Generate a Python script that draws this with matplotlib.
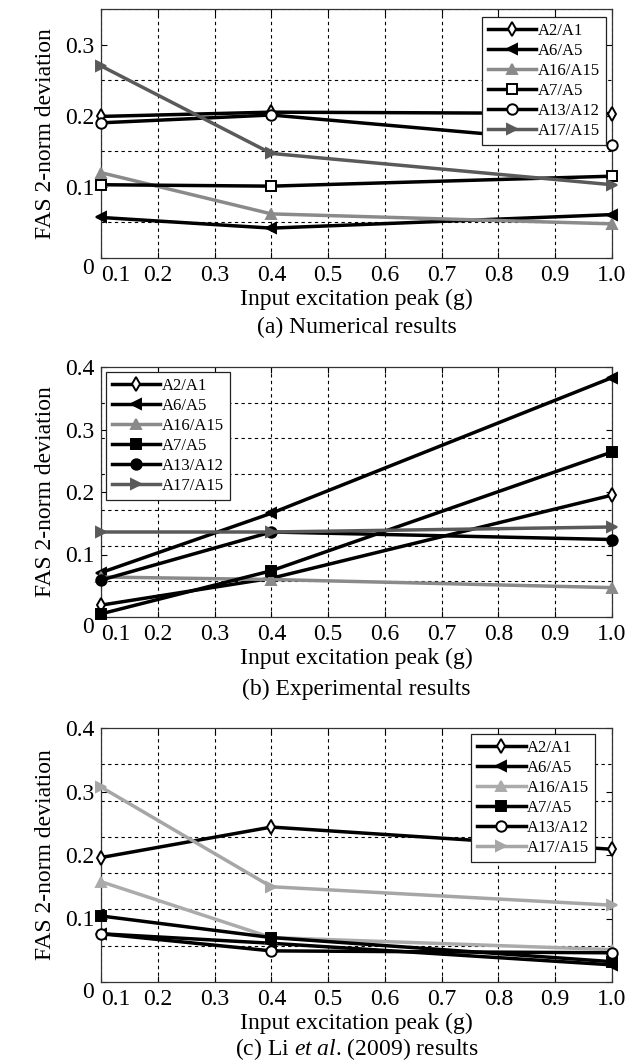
import numpy as np
import matplotlib
matplotlib.use('Agg')
import matplotlib.pyplot as plt
from matplotlib.ticker import FixedLocator

plt.rcParams['font.family'] = ['Liberation Serif', 'DejaVu Serif']
plt.rcParams['mathtext.fontset'] = 'custom'
plt.rcParams['mathtext.rm'] = 'Liberation Serif'
plt.rcParams['mathtext.it'] = 'Liberation Serif:italic'

# input excitation peaks (g)
peaks = [0.1, 0.4, 1.0]
series = ['A2/A1', 'A6/A5', 'A16/A15', 'A7/A5', 'A13/A12', 'A17/A15']

# (a) numerical results, one list per series
num_vals = [
    [0.199, 0.205, 0.203],
    [0.057, 0.042, 0.061],
    [0.120, 0.062, 0.048],
    [0.103, 0.101, 0.115],
    [0.190, 0.201, 0.159],
    [0.270, 0.147, 0.103],
]
# (b) experimental results
exp_vals = [
    [0.019, 0.062, 0.195],
    [0.071, 0.166, 0.383],
    [0.064, 0.060, 0.047],
    [0.005, 0.074, 0.264],
    [0.059, 0.136, 0.124],
    [0.136, 0.136, 0.144],
]
# (c) Li et al. (2009) results
li_vals = [
    [0.196, 0.244, 0.209],
    [0.076, 0.061, 0.027],
    [0.158, 0.070, 0.051],
    [0.104, 0.070, 0.032],
    [0.076, 0.049, 0.046],
    [0.307, 0.150, 0.121],
]

markers = ['d', '<', '^', 's', 'o', '>']

fig = plt.figure(figsize=(6.37, 10.64), dpi=100)
L, W = 101 / 637, 511 / 637
panels = [
    dict(vals=num_vals, ymax=0.35, pos=[L, 1 - 258 / 1064, W, 249 / 1064],
         grays={2: '#8a8a8a', 5: '#5a5a5a'}, open_={0, 3, 4},
         leg=dict(loc='upper right', bbox_to_anchor=(0.988, 0.968)),
         cap='(a) Numerical results', capy=-0.278),
    dict(vals=exp_vals, ymax=0.4, pos=[L, 1 - 617 / 1064, W, 250 / 1064],
         grays={2: '#8a8a8a', 5: '#5a5a5a'}, open_={0},
         leg=dict(loc='upper left', bbox_to_anchor=(0.01, 0.98)),
         cap='(b) Experimental results', capy=-0.29),
    dict(vals=li_vals, ymax=0.4, pos=[L, 1 - 982 / 1064, W, 254 / 1064],
         grays={2: '#ababab', 5: '#a6a6a6'}, open_={0, 4},
         leg=dict(loc='upper right', bbox_to_anchor=(0.967, 0.976)),
         cap=r'(c) Li $\mathit{et\ al}$. (2009) results', capy=-0.265),
]

for p in panels:
    ax = fig.add_axes(p['pos'])
    for i, name in enumerate(series):
        c = p['grays'].get(i, 'black')
        fc = 'white' if i in p['open_'] else c
        ax.plot(peaks, p['vals'][i], color=c, lw=2.5, marker=markers[i],
                ms=7.5, mfc=fc, mec=c, mew=1.4, label=name, clip_on=False,
                zorder=3)
    ax.set_xlim(0.1, 1.0)
    ax.set_ylim(0, p['ymax'])
    xt = np.arange(1, 11) / 10
    ax.set_xticks(xt)
    ax.set_xticklabels(['%.1f' % v for v in xt])
    n = int(round(p['ymax'] * 10 - 0.5)) + 1
    ax.set_yticks([0, 0.1, 0.2, 0.3, 0.4][:n])
    ax.set_yticklabels(['0', '0.1', '0.2', '0.3', '0.4'][:n])
    ax.yaxis.set_minor_locator(FixedLocator(np.linspace(0, p['ymax'], 8)))
    ax.grid(True, axis='x', which='major', color='black', ls=(0, (3, 3)), lw=0.8)
    ax.grid(True, axis='y', which='minor', color='black', ls=(0, (3, 3)), lw=0.8)
    ax.tick_params(axis='both', which='major', direction='in', length=4,
                   top=True, right=True, labelsize=17, pad=5, width=0.8)
    ax.tick_params(axis='y', which='minor', length=0)
    # first x label sits right of the corner, "0" drops a little
    ax.get_xticklabels()[0].set_ha('left')
    ax.get_yticklabels()[0].set_va('top')
    for s in ax.spines.values():
        s.set_linewidth(0.9)
        s.set_color('#333333')
    ax.set_xlabel('Input excitation peak (g)', fontsize=17, labelpad=2)
    ax.set_ylabel('FAS 2-norm deviation', fontsize=17, labelpad=6)
    ax.text(0.5, p['capy'], p['cap'], transform=ax.transAxes, ha='center',
            va='center', fontsize=17)
    leg = ax.legend(fontsize=12, handlelength=2.9, handletextpad=0.1,
                    labelspacing=0.24, borderpad=0.35, borderaxespad=0,
                    fancybox=False, framealpha=1, edgecolor='#222222',
                    **p['leg'])
    leg.get_frame().set_linewidth(0.9)
    leg.set_zorder(5)

fig.savefig('out.png', dpi=100)
